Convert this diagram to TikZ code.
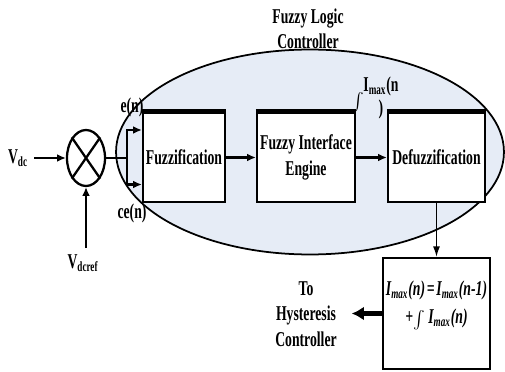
\documentclass[tikz,border=0pt]{standalone}
\usepackage{fontspec}
\setmainfont[FakeStretch=0.65]{Liberation Serif}
\usetikzlibrary{arrows.meta, positioning, shapes, calc}
\definecolor{flcblue}{RGB}{230, 236, 246}

\begin{document}
\begin{tikzpicture}[
    x=0.02cm, y=-0.02cm,
    every node/.style={font=\fontsize{12}{14.5}\selectfont\bfseries},
    block/.style={rectangle, draw, line width=1.3pt, fill=white, minimum height=1.78cm, align=center, inner sep=1pt},
    topbar/.style={line width=2.8pt},
    arrow/.style={-{Latex[length=5pt, width=4.5pt]}, line width=1.5pt},
    thinarrow/.style={-{Latex[length=6pt, width=4pt]}, line width=0.8pt},
    outarrow/.style={-{Latex[length=7pt, width=8pt]}, line width=3pt}
  ]
    \useasboundingbox (0,0) rectangle (505,372);

    % controller region
    \node[ellipse, draw, line width=1pt, fill=flcblue, minimum width=7.76cm, minimum height=4.1cm] (flc) at (310,152) {};
    \node[align=center] (title) at (308,29) {Fuzzy Logic\\Controller};

    % summing junction
    \node[ellipse, draw, line width=1.3pt, minimum width=0.76cm, minimum height=1.12cm, inner sep=0pt] (sum) at (86,158) {};
    \draw[line width=1.3pt] (sum.north west) -- (sum.south east);
    \draw[line width=1.3pt] (sum.north east) -- (sum.south west);

    \node (vdc) at (18,158) {V\textsubscript{dc}};
    \node (vdcref) at (83,263) {V\textsubscript{dcref}};

    % blocks
    \node[block, minimum width=1.64cm] (fuzz) at (184,157.5) {Fuzzification};
    \node[block, minimum width=1.96cm] (fie) at (306,157.5) {Fuzzy Interface\\Engine};
    \node[block, minimum width=1.94cm] (defuzz) at (436.5,157.5) {Defuzzification};
    \foreach \b in {fuzz, fie, defuzz}
      \draw[topbar] (\b.north west) -- (\b.north east);

    \node[block, minimum width=2.14cm, minimum height=2.22cm, text depth=0.45cm,
      font=\fontsize{12}{16}\selectfont\bfseries\itshape] (integ) at (436.5,313.5)
      {I\textsubscript{max}(n)\kern1pt=\kern1pt I\textsubscript{max}(n-1)\\+{\scriptsize$\int$} I\textsubscript{max}(n)};
    \node[align=center] (hyst) at (306,314) {To\\Hysteresis\\Controller};

    % signal labels
    \node (en) at (132,107) {e(n)};
    \node (cen) at (132,213) {ce(n)};
    \node[align=center, inner sep=1pt, font=\fontsize{12}{13.5}\selectfont\bfseries] (imax) at (381,98) {I\textsubscript{max}(n\\)};
    \node[font=\scriptsize, inner sep=0pt] (intsym) at (358,102) {$\int$};

    % connections
    \coordinate (br) at (127,158);
    \draw[arrow] (vdc) -- (sum);
    \draw[arrow] (vdcref.north -| sum.south) -- (sum.south);
    \draw[line width=1.5pt] (sum.east) -- (br);
    \draw[arrow] (br) |- ($(fuzz.west)+(0,-27.5)$);
    \draw[arrow] (br) |- ($(fuzz.west)+(0,27)$);
    \draw[arrow] (fuzz) -- (fie);
    \draw[arrow] (fie) -- (defuzz);
    \draw[thinarrow] (defuzz) -- (integ);
    \draw[outarrow, shorten >=5pt] (integ.west) -- (integ.west -| hyst.east);
\end{tikzpicture}
\end{document}
